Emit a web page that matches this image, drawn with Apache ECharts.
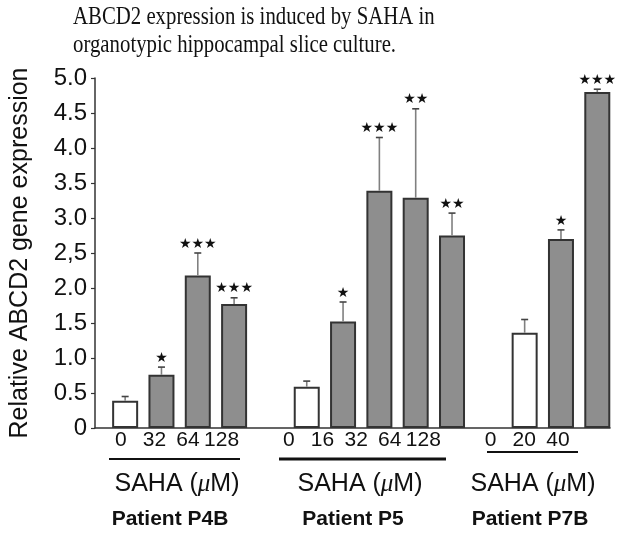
<!DOCTYPE html>
<html>
<head>
<meta charset="utf-8">
<script src="https://cdn.jsdelivr.net/npm/echarts@6/dist/echarts.min.js"></script>
<style>
html,body{margin:0;padding:0;background:#fff;}
#chart{width:635px;height:543px;}
</style>
</head>
<body>
<div id="chart"></div>
<script>
// ---- data ----
const titleLines = ['ABCD2 expression is induced by SAHA in', 'organotypic hippocampal slice culture.'];
const yAxisName = 'Relative ABCD2 gene expression';
const yTickLabels = ['0', '0.5', '1.0', '1.5', '2.0', '2,5', '3.0', '3.5', '4.0', '4.5', '5.0'];
const groups = ['Patient P4B', 'Patient P5', 'Patient P7B'];
const groupAxisLabel = ['SAHA (', '\u03bc', 'M)'];
const doseLabels = [['0', '32', '64', '128'], ['0', '16', '32', '64', '128'], ['0', '20', '40']];
const means = [[0.39, 0.76, 2.18, 1.77], [0.59, 1.52, 3.39, 3.29, 2.75], [1.36, 2.70, 4.80]];
const errs = [[0.06, 0.11, 0.32, 0.09], [0.08, 0.28, 0.76, 1.27, 0.32], [0.19, 0.13, 0.04]];
const stars = [['', '*', '***', '***'], ['', '*', '***', '**', '**'], ['', '*', '***']];

// ---- build slots (one empty slot between patients) ----
const flat = [];
let slot = 0;
groups.forEach((g, gi) => {
  doseLabels[gi].forEach((d, di) => {
    flat.push({ slot: slot, dose: d, mean: means[gi][di], err: errs[gi][di], star: stars[gi][di] });
    slot++;
  });
  slot++;
});
const labelSlots = flat.map(f => f.slot);
const labelBySlot = {};
flat.forEach(f => { labelBySlot[f.slot] = f.dose; });

// ---- layout (pixels) ----
const groupDeco = [
  { under: [109, 240, 459, 2], saha: [177, 484], patient: [170, 519] },
  { under: [279, 446, 459, 3], saha: [360, 484], patient: [353, 519] },
  { under: [487, 578, 452, 2], saha: [533, 484], patient: [530, 519] }
];

const graphics = [{
  type: 'text', left: 73, top: 3, scaleX: 0.8,
  style: { text: titleLines.join('\n'), font: '26px "Liberation Serif"', fill: '#111', lineHeight: 28 }
}];
groups.forEach((g, gi) => {
  const d = groupDeco[gi];
  graphics.push({ type: 'line', shape: { x1: d.under[0], y1: d.under[2], x2: d.under[1], y2: d.under[2] }, style: { stroke: '#111', lineWidth: d.under[3] } });
  graphics.push({
    type: 'text', x: d.saha[0], y: d.saha[1],
    style: {
      text: groupAxisLabel[0] + '{mu|' + groupAxisLabel[1] + '}' + groupAxisLabel[2],
      font: '25px "Liberation Sans"', fill: '#111', textAlign: 'center', textVerticalAlign: 'middle',
      rich: { mu: { fontFamily: 'Liberation Serif', fontStyle: 'italic', fontSize: 25, fill: '#111' } }
    }
  });
  graphics.push({ type: 'text', x: d.patient[0], y: d.patient[1], style: { text: g, font: 'bold 21px "Liberation Sans"', fill: '#111', textAlign: 'center', textVerticalAlign: 'middle' } });
});

const chart = echarts.init(document.getElementById('chart'));
chart.setOption({
  animation: false,
  backgroundColor: '#fff',
  grid: { left: 95, right: 25, top: 78, bottom: 115, containLabel: false },
  xAxis: [{
    type: 'value', min: -0.83, max: 13.35, position: 'bottom',
    axisLine: { show: true, onZero: false, lineStyle: { color: '#333', width: 1.5 } },
    axisTick: { show: false }, axisLabel: { show: false }, splitLine: { show: false }
  }, {
    type: 'value', min: -0.766, max: 14.55, position: 'bottom',
    axisLine: { show: false }, axisTick: { show: false }, splitLine: { show: false },
    axisLabel: {
      show: true, customValues: labelSlots, margin: 2,
      formatter: v => labelBySlot[Math.round(v)] || '',
      fontFamily: 'Liberation Sans', fontSize: 21, color: '#111'
    }
  }],
  yAxis: {
    type: 'value', min: 0, max: 5, interval: 0.5,
    name: yAxisName, nameLocation: 'middle', nameRotate: 90, nameGap: 62,
    nameTextStyle: { fontFamily: 'Liberation Sans', fontSize: 25, color: '#111' },
    axisLine: { show: true, onZero: false, lineStyle: { color: '#333', width: 1.5 } },
    axisTick: { show: true, length: 4, lineStyle: { color: '#333', width: 1.2 } },
    splitLine: { show: false },
    axisLabel: {
      margin: 8, fontFamily: 'Liberation Sans', fontSize: 24, color: '#111',
      formatter: v => yTickLabels[Math.round(v / 0.5)]
    }
  },
  series: [{
    type: 'bar', xAxisIndex: 0, barWidth: 26,
    data: flat.map(f => ({
      value: [f.slot, f.mean],
      itemStyle: { color: f.dose === '0' ? '#ffffff' : '#8e8e8e', borderColor: '#333', borderWidth: 2 }
    }))
  }, {
    type: 'custom', xAxisIndex: 0, z: 5,
    data: flat.map(f => [f.slot, f.mean, f.err]),
    renderItem: function (params, api) {
      const x = api.value(0), v = api.value(1), e = api.value(2);
      const p0 = api.coord([x, v]);
      const p1 = api.coord([x, v + e]);
      const children = [
        { type: 'line', shape: { x1: p0[0], y1: p0[1], x2: p1[0], y2: p1[1] }, style: { stroke: '#808080', lineWidth: 1.6 } },
        { type: 'line', shape: { x1: p1[0] - 3.5, y1: p1[1], x2: p1[0] + 3.5, y2: p1[1] }, style: { stroke: '#444', lineWidth: 1.6 } }
      ];
      const s = flat[params.dataIndex].star;
      if (s) {
        children.push({
          type: 'text', x: p1[0], y: p1[1] - 2,
          style: { text: s.replace(/\*/g, '\u2605'), font: '14px "DejaVu Sans"', fill: '#111', textAlign: 'center', textVerticalAlign: 'bottom' }
        });
      }
      return { type: 'group', children: children };
    }
  }],
  graphic: graphics
});
</script>
</body>
</html>
